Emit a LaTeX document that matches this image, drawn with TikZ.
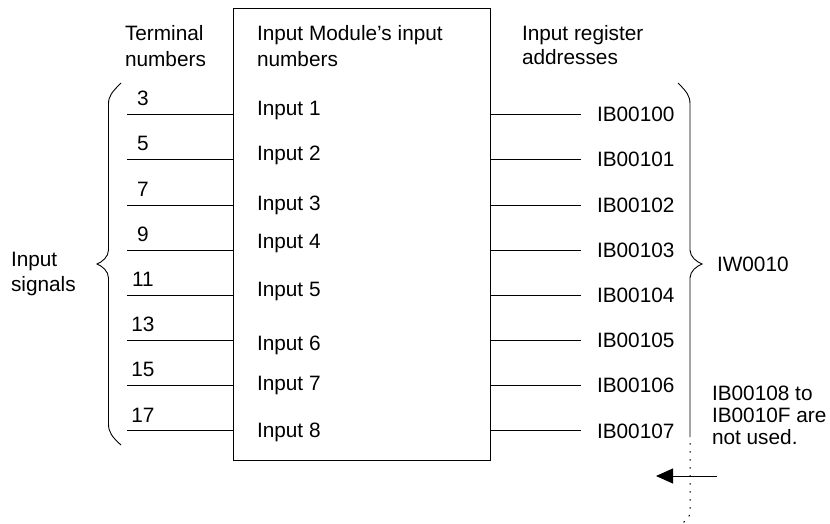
\documentclass[tikz,border=0pt]{standalone}
\usepackage{fontspec}
\setmainfont{Liberation Sans}
\usetikzlibrary{arrows.meta}
\begin{document}
\begin{tikzpicture}[x=1pt,y=-1pt,
  txt/.style={inner sep=0pt,outer sep=0pt,anchor=base west,font=\fontsize{20.8}{26}\selectfont},
  num/.style={txt,anchor=base},
  wire/.style={line width=0.9pt},
  brace/.style={line width=0.9pt}]
\useasboundingbox (0,0) rectangle (830,524);
% module box
\node[draw,line width=0.9pt,inner sep=0pt,outer sep=0pt,minimum width=257pt,minimum height=452pt,anchor=north west] (box) at (233,8) {};
% headers
\node[txt] (th1) at (125,40.5) {Terminal};
\node[txt] (th2) at (125,66.5) {numbers};
\node[txt] (mh1) at (257,40.5) {Input Module’s input};
\node[txt] (mh2) at (257,66.5) {numbers};
\node[txt] (rh1) at (522,40.5) {Input register};
\node[txt] (rh2) at (522,65) {addresses};
% rows
\foreach \i/\y/\t/\iy in {1/114/3/115.5, 2/159.5/5/160.5, 3/205/7/210.5, 4/250/9/248.5,
                          5/295/11/296.5, 6/340/13/350.5, 7/385/15/390.5, 8/430.5/17/437.5}{
  \coordinate (t\i) at (127,\y);
  \coordinate (r\i) at (581,\y);
  \draw[wire] (t\i) -- (box.west |- t\i);
  \draw[wire] (box.east |- r\i) -- (r\i);
  \node[num] (n\i) at (143,\y-8.5) {\t};
  \node[txt] (in\i) at (257,\iy) {Input \i};
  \node[txt] (ib\i) at (597,\y+7.5) {IB0010\the\numexpr\i-1\relax};
}
% left brace
\draw[brace] (121,83) .. controls (112,92) and (108.5,96) .. (108.5,104)
  -- (108.5,250) .. controls (108.5,257) and (102,262) .. (97,264)
  .. controls (102,266) and (108.5,271) .. (108.5,278)
  -- (108.5,424) .. controls (108.5,432) and (112,437) .. (121,445);
\node[txt] (is1) at (11,266) {Input};
\node[txt] (is2) at (11,291.5) {signals};
% right brace
\draw[brace] (678,83) .. controls (687,92) and (690,96) .. (690,104)
  -- (690,250) .. controls (690,257) and (697,262) .. (702,264)
  .. controls (697,266) and (690,271) .. (690,278)
  -- (690,437);
\draw[brace,line width=1pt,dash pattern=on 1.6pt off 6.4pt] (690,443) -- (690,512) .. controls (690,517) and (686,521) .. (681,524);
\node[txt] (iw) at (717,271.5) {IW0010};
% note
\node[txt] (nt1) at (712,400) {IB00108 to};
\node[txt] (nt2) at (712,422) {IB0010F are};
\node[txt] (nt3) at (712,444.5) {not used.};
% arrow
\coordinate (a1) at (717,476);
\coordinate (a0) at (656,476);
\draw[wire,-{Triangle[length=17pt,width=15pt]}] (a1) -- (a0);
\end{tikzpicture}
\end{document}
